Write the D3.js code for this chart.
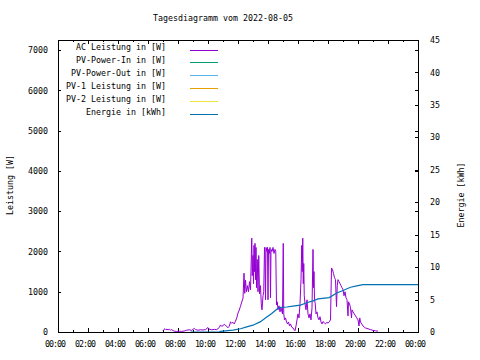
<!DOCTYPE html>
<html><head><meta charset="utf-8">
<script src="https://cdn.jsdelivr.net/npm/d3@7/dist/d3.min.js"></script>
<style>
body{margin:0;background:#fff}
text{font-family:"DejaVu Sans Mono",monospace;font-size:8.3px;fill:#000}
</style>
</head><body><svg id="c" width="480" height="360"></svg>
<script>
const chartTitle = "Tagesdiagramm vom 2022-08-05";
const seriesNames = ["AC Leistung in [W]","PV-Power-In in [W]","PV-Power-Out in [W]","PV-1 Leistung in [W]","PV-2 Leistung in [W]","Energie in [kWh]"];
const seriesColors = ["#9400d3","#009e73","#56b4e9","#e69f00","#f0e442","#0072b2"];
const leftTicks = [0,1000,2000,3000,4000,5000,6000,7000];
const rightTicks = [0,5,10,15,20,25,30,35,40,45];

const acTimes = ["07:00","07:04","07:08","07:12","07:16","07:20","07:25","07:30","07:35","07:40","07:45","07:55","08:05","08:15","08:25","08:35","08:45","08:55","09:05","09:10","09:20","09:30","09:40","09:50","10:00","10:05","10:15","10:25","10:35","10:45","10:50","10:55","11:00","11:05","11:10","11:15","11:20","11:25","11:30","11:35","11:40","11:45","11:50","11:55","12:00","12:05","12:10","12:15","12:20","12:24","12:27","12:30","12:34","12:38","12:42","12:46","12:50","12:55","12:57","13:00","13:02","13:04","13:06","13:08","13:10","13:12","13:14","13:17","13:20","13:23","13:26","13:30","13:33","13:36","13:40","13:43","13:46","13:48","13:50","13:52","13:55","13:58","14:00","14:02","14:05","14:08","14:10","14:12","14:16","14:20","14:24","14:28","14:31","14:34","14:37","14:40","14:44","14:48","14:52","14:58","15:01","15:03","15:06","15:10","15:14","15:18","15:22","15:26","15:30","15:35","15:40","15:45","15:48","15:52","15:56","16:00","16:04","16:08","16:12","16:15","16:17","16:19","16:21","16:23","16:25","16:28","16:32","16:36","16:40","16:44","16:48","16:52","16:56","17:00","17:02","17:04","17:06","17:09","17:12","17:16","17:20","17:24","17:28","17:32","17:36","17:40","17:45","17:50","17:55","18:00","18:05","18:10","18:14","18:18","18:22","18:26","18:30","18:34","18:37","18:40","18:44","18:48","18:52","18:56","19:00","19:04","19:08","19:12","19:16","19:20","19:22","19:26","19:30","19:34","19:36","19:40","19:45","19:50","19:55","20:00","20:04","20:07","20:10","20:15","20:20","20:25","20:30","20:40","20:50","21:00","21:10","21:20"];
const acPower = [30,65,80,55,75,50,70,45,60,35,20,15,20,15,25,45,55,40,90,60,45,55,50,60,110,70,55,65,60,110,175,140,160,190,170,130,110,140,250,220,240,200,270,350,470,545,640,745,840,1460,960,1290,1000,1150,1000,1250,1050,2330,1400,1900,1200,2150,1500,2200,1300,2100,1100,1800,1000,1900,950,1150,700,550,900,1000,2100,1950,800,2100,2000,2100,800,2050,1950,2100,850,2050,2000,2100,1950,2050,2000,670,750,550,650,500,600,450,2200,450,300,350,250,200,250,150,200,120,100,50,30,150,300,450,350,700,1300,2150,1500,2330,1200,1700,900,700,550,800,450,350,450,300,600,2050,1100,1500,800,700,450,500,350,300,380,250,200,260,230,200,240,220,250,300,1590,1550,1450,1350,1300,630,1150,1300,1250,1200,1150,1100,1050,900,1000,850,800,400,750,700,600,350,550,500,450,400,350,300,150,350,250,200,150,120,100,80,60,40,30,20];

const pvPowerIn = [];
const pvPowerOut = [];
const pv1Power = [];
const pv2Power = [];

const energyTimes = ["08:50","10:45","10:50","11:40","12:10","12:35","13:00","13:30","13:55","14:15","14:35","14:50","15:15","15:40","16:10","16:35","17:00","17:20","18:05","18:35","19:00","19:30","19:55","20:20","24:00"];
const energyKWh = [0,0,0.1,0.3,0.5,0.8,1.05,1.6,2.3,2.85,3.5,3.8,3.85,4.0,4.15,4.5,4.8,5.1,5.3,6.0,6.4,6.9,7.1,7.3,7.3];

const toDate = s => { const [h,mm] = s.split(":").map(Number); return new Date(2022,7,5,h,mm); };

const svg = d3.select("#c");
const L=58, R=418, T=40, B=332;
const x = d3.scaleTime().domain([toDate("00:00"), toDate("24:00")]).range([L,R]);
const y = d3.scaleLinear().domain([0,7250]).range([B,T]);
const y2 = d3.scaleLinear().domain([0,45]).range([B,T]);

svg.append("rect").attr("width",480).attr("height",360).attr("fill","#fff");

// title
svg.append("text").attr("x",223).attr("y",21).attr("text-anchor","middle").text(chartTitle);

function clean(g){ g.select(".domain").remove(); g.selectAll("line").attr("stroke","#000").attr("shape-rendering","crispEdges"); }

// x minor ticks bottom/top
svg.append("g").attr("transform",`translate(0,${B})`)
  .call(d3.axisBottom(x).ticks(d3.timeHour.every(1)).tickSize(-2).tickFormat("")).call(clean);
svg.append("g").attr("transform",`translate(0,${T})`)
  .call(d3.axisTop(x).ticks(d3.timeHour.every(1)).tickSize(-2).tickFormat("")).call(clean);
// x major
const gx = svg.append("g").attr("transform",`translate(0,${B})`)
  .call(d3.axisBottom(x).ticks(d3.timeHour.every(2)).tickSize(-4).tickFormat(d3.timeFormat("%H:%M"))).call(clean);
gx.selectAll("text").attr("y",14.5).attr("dy",null).attr("dx",-3.5).attr("fill","#000").style("letter-spacing","-1px");
svg.append("g").attr("transform",`translate(0,${T})`)
  .call(d3.axisTop(x).ticks(d3.timeHour.every(2)).tickSize(-4).tickFormat("")).call(clean);

// left y
const gy = svg.append("g").attr("transform",`translate(${L},0)`)
  .call(d3.axisLeft(y).tickValues(leftTicks).tickSize(-3).tickPadding(10).tickFormat(d3.format("d"))).call(clean);
gy.selectAll("text").attr("fill","#000");
svg.append("g").attr("transform",`translate(${R},0)`)
  .call(d3.axisRight(y).tickValues(leftTicks).tickSize(-3).tickFormat("")).call(clean);
// right y2
const gy2 = svg.append("g").attr("transform",`translate(${R},0)`)
  .call(d3.axisRight(y2).tickValues(rightTicks).tickSize(-3).tickPadding(12).tickFormat(d3.format("d"))).call(clean);
gy2.selectAll("text").attr("fill","#000");

// axis titles
svg.append("text").attr("transform","translate(13,185) rotate(-90)").attr("text-anchor","middle").text("Leistung [W]");
svg.append("text").attr("transform","translate(464,195) rotate(-90)").attr("text-anchor","middle").text("Energie [kWh]");

// clip
svg.append("clipPath").attr("id","pc").append("rect").attr("x",L).attr("y",T).attr("width",R-L).attr("height",B-T);

const acData = acTimes.map((t,i)=>({t:toDate(t), v:acPower[i]}));
const enData = energyTimes.map((t,i)=>({t:toDate(t), v:energyKWh[i]}));
const line = d3.line().x(d=>x(d.t)).y(d=>y(d.v));
const line2 = d3.line().x(d=>x(d.t)).y(d=>y2(d.v));

const plot = svg.append("g").attr("clip-path","url(#pc)");
plot.append("path").datum(acData).attr("d",line).attr("fill","none").attr("stroke",seriesColors[0]).attr("stroke-width",1);
[pvPowerIn,pvPowerOut,pv1Power,pv2Power].forEach((s,i)=>{
  if (s.length) plot.append("path").datum(s).attr("d",line).attr("fill","none").attr("stroke",seriesColors[i+1]).attr("stroke-width",1);
});
plot.append("path").datum(enData).attr("d",line2).attr("fill","none").attr("stroke",seriesColors[5]).attr("stroke-width",1.2);

// frame
svg.append("rect").attr("x",L+0.5).attr("y",T+0.5).attr("width",R-L).attr("height",B-T)
  .attr("fill","none").attr("stroke","#000").attr("stroke-width",1).attr("shape-rendering","crispEdges");

// legend
const lg = svg.append("g");
seriesNames.forEach((n,i)=>{
  const yy = 47.5 + 12.9*i;
  lg.append("text").attr("x",166).attr("y",yy).attr("dy","0.35em").attr("text-anchor","end").text(n);
  lg.append("line").attr("x1",190).attr("x2",218).attr("y1",Math.round(yy+2)+0.5).attr("y2",Math.round(yy+2)+0.5)
    .attr("stroke",seriesColors[i]).attr("stroke-width",1);
});
</script></body></html>
